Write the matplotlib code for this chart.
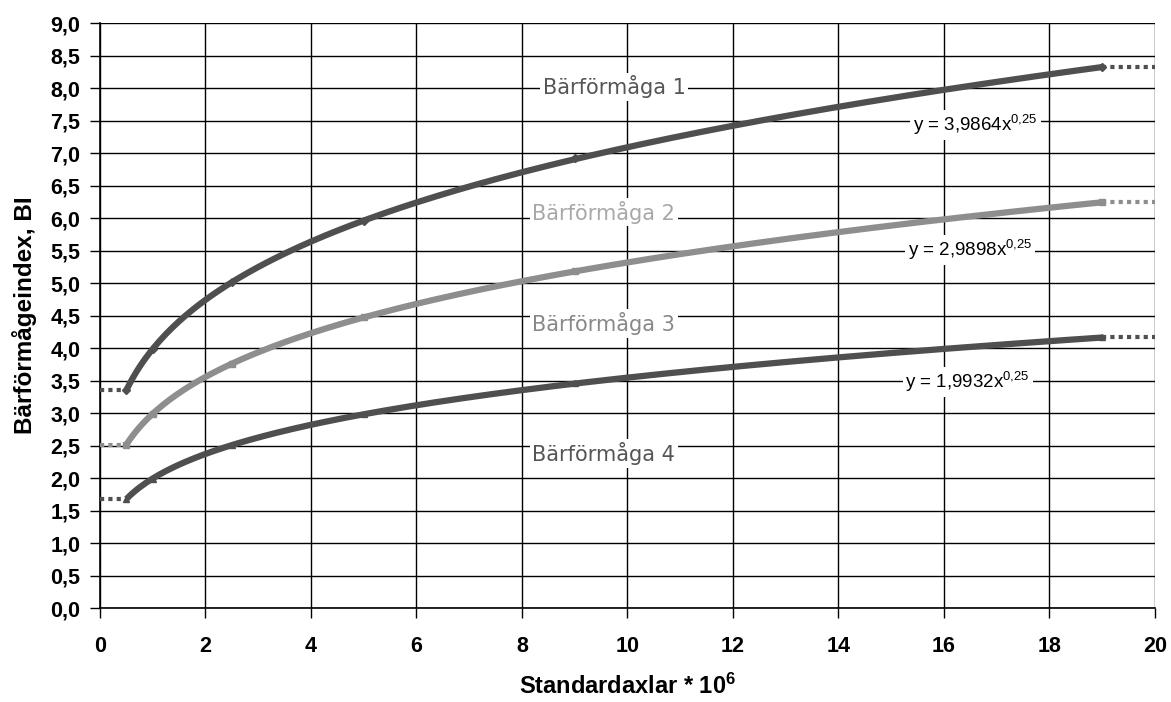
import matplotlib
matplotlib.use("Agg")
import matplotlib.pyplot as plt
import numpy as np
from matplotlib.ticker import FuncFormatter, MultipleLocator

plt.rcParams["mathtext.fontset"] = "custom"
plt.rcParams["mathtext.rm"] = "Liberation Sans"
plt.rcParams["mathtext.it"] = "Liberation Sans"
plt.rcParams["mathtext.bf"] = "Liberation Sans:bold"

# measured points (x in millions of standard axles)
x_pts = [0.5, 1, 2.5, 5, 9, 19]
bi_1 = [3.35, 3.99, 5.01, 5.96, 6.92, 8.32]
bi_2 = [2.51, 2.99, 3.76, 4.47, 5.19, 6.24]
bi_3 = [1.68, 1.99, 2.51, 2.98, 3.46, 4.17]

# power trendlines as printed in the chart: y = a * x^0.25
trend_coef = [3.9864, 2.9898, 1.9932]
trend_exp = 0.25
trend_labels = ["y = 3,9864x$^{\\mathrm{0{,}25}}$",
                "y = 2,9898x$^{\\mathrm{0{,}25}}$",
                "y = 1,9932x$^{\\mathrm{0{,}25}}$"]

class_labels = ["Bärförmåga 1", "Bärförmåga 2", "Bärförmåga 3", "Bärförmåga 4"]

series_colors = ["#4f4f4f", "#8e8e8e", "#4f4f4f"]
series_markers = ["D", "s", "^"]
label_colors = ["#555555", "#a8a8a8", "#888888", "#555555"]

fig = plt.figure(figsize=(11.71, 7.02), dpi=100)
ax = fig.add_axes([0.0854, 0.1339, 0.9009, 0.8333])

xx = np.linspace(x_pts[0], x_pts[-1], 300)
for ys, a, c, m in zip([bi_1, bi_2, bi_3], trend_coef, series_colors, series_markers):
    ax.plot(x_pts, ys, ls="none", color=c, marker=m, ms=4.5, zorder=3)
    ax.plot(xx, a * xx ** trend_exp, color=c, lw=4.5, solid_capstyle="butt", zorder=4)
    # dotted extensions to the chart edges
    ax.plot([0, x_pts[0]], [ys[0], ys[0]], color=c, lw=3, ls=(0, (1, 1)), zorder=3)
    ax.plot([x_pts[-1], 20], [ys[-1], ys[-1]], color=c, lw=3, ls=(0, (1, 1)), zorder=3)

box = dict(facecolor="white", edgecolor="none", pad=2)
label_pos = [(9.75, 8.02), (9.55, 6.09), (9.55, 4.38), (9.55, 2.38)]
for (lx, ly), txt, c in zip(label_pos, class_labels, label_colors):
    ax.text(lx, ly, txt, color=c, fontsize=15, family="DejaVu Sans",
            ha="center", va="center", bbox=box, zorder=5)

eq_pos = [(16.6, 7.43), (16.5, 5.51), (16.45, 3.48)]
for (ex, ey), txt in zip(eq_pos, trend_labels):
    ax.text(ex, ey, txt, color="black", fontsize=13.5, family="Liberation Sans",
            ha="center", va="center", bbox=box, zorder=5)

ax.set_xlim(0, 20)
ax.set_ylim(0, 9)
ax.xaxis.set_major_locator(MultipleLocator(2))
ax.yaxis.set_major_locator(MultipleLocator(0.5))
ax.yaxis.set_major_formatter(FuncFormatter(lambda v, p: f"{v:.1f}".replace(".", ",")))
ax.grid(True, color="black", lw=1)
ax.set_axisbelow(True)
for s in ["top", "right"]:
    ax.spines[s].set_visible(False)
for s in ["left", "bottom"]:
    ax.spines[s].set_linewidth(1.2)

ax.tick_params(direction="out", length=7, width=1, pad=7)
for lab in ax.get_xticklabels() + ax.get_yticklabels():
    lab.set_family("Liberation Sans")
    lab.set_fontweight("bold")
    lab.set_fontsize(15.5)
ax.tick_params(axis="x", pad=13)

ax.set_xlabel("Standardaxlar * 10$^{\\mathbf{6}}$", fontsize=17, fontweight="bold",
              family="Liberation Sans", labelpad=12)
ax.set_ylabel("Bärförmågeindex, BI", fontsize=17.5, fontweight="bold",
              family="Liberation Sans", labelpad=10)

fig.savefig("out.png", dpi=100)
